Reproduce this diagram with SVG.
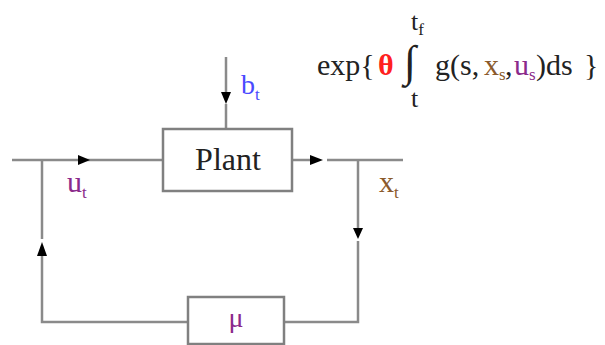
<svg xmlns="http://www.w3.org/2000/svg" width="605" height="345" viewBox="0 0 605 345">
<style>
.ln{fill:none;stroke:#8a8a8a;stroke-width:2.5}
.box{fill:#fff;stroke:#808080;stroke-width:2.5}
.ah{fill:#000}
.tx{font-family:'Liberation Serif','DejaVu Serif',serif;fill:#222}
.pur{fill:#8b2a8b}
.blu{fill:#4a4aff}
.brn{fill:#8b5a2b}
.red{fill:#ff2020;font-weight:bold}
</style>
<rect width="605" height="345" fill="#fff"/>
<g id="connectors">
<path class="ln" d="M12,160 H163"/>
<path class="ln" d="M292,160 H311"/>
<path class="ln" d="M327,160 H403"/>
<path class="ln" d="M358,160 V229"/>
<path class="ln" d="M358,241 V322 H284"/>
<path class="ln" d="M188,322 H42 V255"/>
<path class="ln" d="M42,239 V160"/>
<path class="ln" d="M226,57 V92"/>
<path class="ln" d="M226,104 V129"/>
<polygon class="ah" points="90,160 78,155 78,165"/>
<polygon class="ah" points="323,160 310,155 310,165"/>
<polygon class="ah" points="358,239 353,228 363,228"/>
<polygon class="ah" points="42,242 37,256 47,256"/>
<polygon class="ah" points="226,104 221,92 231,92"/>
</g>
<g id="plant" class="tx" font-family="Liberation Serif, serif">
<rect class="box" x="163" y="129" width="129" height="62"/>
<text x="228" y="170" font-size="32" text-anchor="middle">Plant</text>
</g>
<g id="mu" class="tx" font-family="Liberation Serif, serif">
<rect class="box" x="188" y="297" width="96" height="47"/>
<text class="pur" x="236" y="327" font-size="28" text-anchor="middle">μ</text>
</g>
<g id="labels" class="tx" font-family="Liberation Serif, serif">
<text class="blu" x="241" y="94" font-size="28">b<tspan font-size="17" dy="6">t</tspan></text>
<text class="pur" x="67" y="192" font-size="30">u<tspan font-size="17" dy="6">t</tspan></text>
<text class="brn" x="379" y="192" font-size="30">x<tspan font-size="17" dy="6">t</tspan></text>
</g>
<g id="formula" class="tx" font-family="Liberation Serif, serif">
<text x="317" y="75" font-size="30">exp{</text>
<text class="red" x="378" y="75" font-size="30">θ</text>
<text x="404" y="76" font-size="44">∫</text>
<text x="411" y="30" font-size="26">t<tspan font-size="17" dy="5">f</tspan></text>
<text x="411" y="107" font-size="26">t</text>
<text x="435" y="75" font-size="30">g(s,</text>
<text class="brn" x="484" y="75" font-size="30">x<tspan font-size="17" dy="5">s</tspan></text>
<text x="505" y="75" font-size="30">,</text>
<text class="pur" x="514" y="75" font-size="30">u<tspan font-size="17" dy="5">s</tspan></text>
<text x="536" y="75" font-size="30">)ds</text>
<text x="584" y="75" font-size="30">}</text>
</g>
</svg>
